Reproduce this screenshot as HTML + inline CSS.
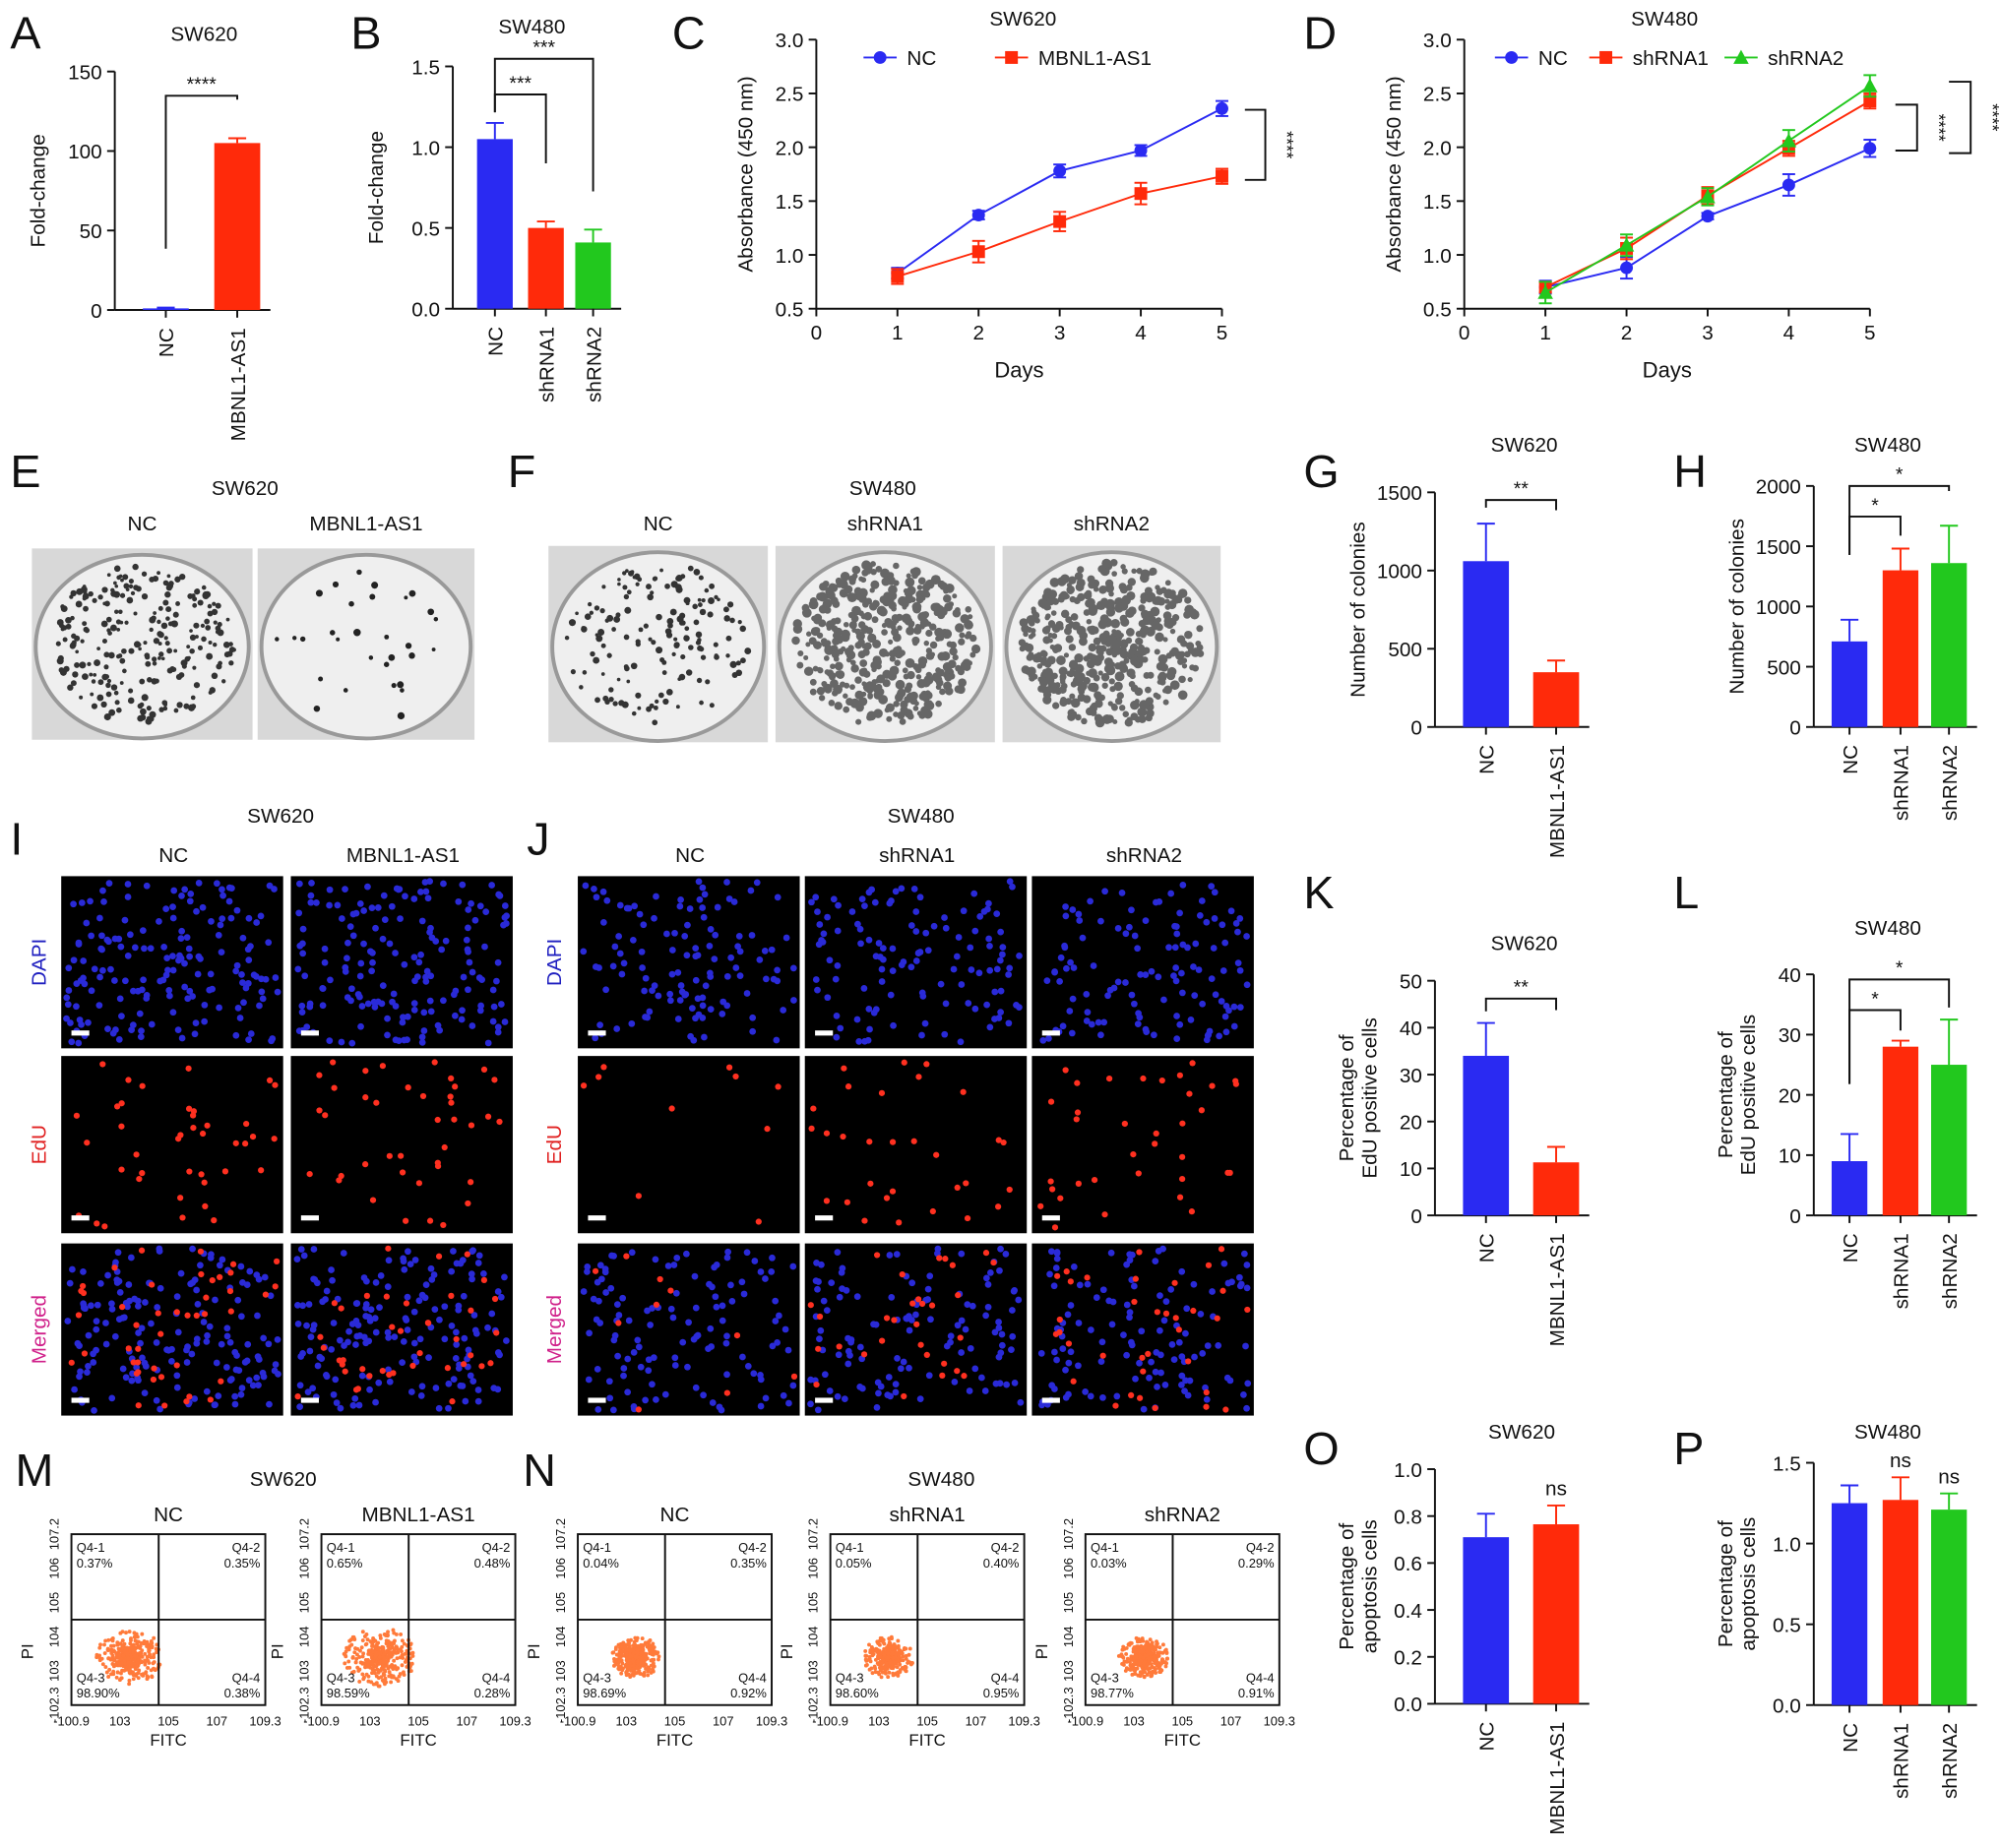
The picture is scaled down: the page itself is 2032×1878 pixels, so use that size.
<!DOCTYPE html>
<html><head><meta charset="utf-8"><style>
body{margin:0;background:#fff;}
svg{display:block;font-family:"Liberation Sans",Arial,sans-serif;}
</style></head><body>
<svg id="fig" width="2032" height="1878" viewBox="0 0 1568 1449" xmlns="http://www.w3.org/2000/svg"></svg>
<script>
// ---- data ----
const aCats=["NC","MBNL1-AS1"], aVals=[1,105], aErr=[0.5,3];
const bCats=["NC","shRNA1","shRNA2"], bVals=[1.05,0.5,0.41], bErr=[0.1,0.04,0.08];
const gVals=[1060,350], gErr=[240,75];
const hVals=[710,1300,1360], hErr=[180,180,310];
const kVals=[34,11.3], kErr=[7,3.3];
const lVals=[9,28,25], lErr=[4.5,1,7.5];
const oVals=[0.71,0.765], oErr=[0.1,0.08];
const pVals=[1.25,1.27,1.21], pErr=[0.11,0.14,0.1];
const days=[1,2,3,4,5];
const cNC=[0.83,1.37,1.78,1.97,2.36], cMB=[0.80,1.03,1.31,1.57,1.73];
const cNCe=[0.05,0.04,0.06,0.05,0.07], cMBe=[0.07,0.1,0.09,0.1,0.07];
const dNC=[0.70,0.88,1.36,1.65,1.99], dS1=[0.70,1.06,1.55,1.99,2.43], dS2=[0.65,1.09,1.54,2.06,2.57];
const dNCe=[0.06,0.1,0.03,0.1,0.08], dS1e=[0.05,0.1,0.08,0.07,0.07], dS2e=[0.1,0.1,0.08,0.1,0.1];
const BLUE="#2a2af2",RED="#ff2a0a",GREEN="#22c81e";
const svg=document.getElementById('fig');
const NS="http://www.w3.org/2000/svg";
function el(tag,attrs,parent,text){const e=document.createElementNS(NS,tag);for(const k in attrs)e.setAttribute(k,attrs[k]);if(text!==undefined)e.textContent=text;(parent||svg).appendChild(e);return e;}
function txt(x,y,s,size,opt,parent){opt=opt||{};const t=el('text',Object.assign({x:x,y:y,'font-size':size,fill:opt.fill||'#111','text-anchor':opt.anchor||'middle'},opt.rot?{transform:`rotate(${opt.rot} ${x} ${y})`}:{}),parent,s);

return t;}
function letter(x,y,s){txt(x,y,s,36,{anchor:'start',name:'panel-letter-'+s.toLowerCase()});}
function line(x1,y1,x2,y2,w,c,parent){const l=el('line',{x1,y1,x2,y2,stroke:c||'#111','stroke-width':w||1.5},parent);return l;}

function barChart(o){
  const g=el('g',{});
  
  
  const ys=v=>o.yb-(v/o.max)*(o.yb-o.yt);
  line(o.ax,o.yt,o.ax,o.yb,1.5,'#111',g);
  line(o.ax,o.yb,o.cx[o.cx.length-1]+o.w/2+8,o.yb,1.5,'#111',g);
  o.ticks.forEach(t=>{const y=ys(t);line(o.ax-6,y,o.ax,y,1.5,'#111',g);txt(o.ax-10,y+6,o.tl?o.tl(t):String(t),16,{anchor:'end',name:'y-tick-label'},g);});
  o.vals.forEach((v,i)=>{const x=o.cx[i];
    const r=el('rect',{x:x-o.w/2,y:ys(v),width:o.w,height:o.yb-ys(v),fill:o.cols[i]},g);
    
    
    const ye=ys(v+o.err[i]);line(x,ys(v),x,ye,1.5,o.cols[i],g);line(x-7,ye,x+7,ye,1.5,o.cols[i],g);
    line(x,o.yb,x,o.yb+6,1.5,'#111',g);
    txt(x+6,o.yb+14,o.cats[i],16,{anchor:'end',rot:-90,name:'x-tick-label'},g);
  });
  txt(o.title[0],o.title[1],o.title[2],16,{name:'chart-title'},g);
  o.ylab.forEach((s,i)=>txt(o.ax-55+i*18-(o.ylab.length-1)*9,(o.yt+o.yb)/2,s,16,{rot:-90,name:'y-axis-title'},g));
  (o.sig||[]).forEach(s=>{const x1=o.cx[s[0]],x2=o.cx[s[1]],y=s[2];
    el('polyline',{points:`${x1},${s[3]} ${x1},${y} ${x2},${y} ${x2},${s[4]}`,fill:'none',stroke:'#111','stroke-width':1.5},g);
    txt((x1+x2)/2,y-4,s[5],15,{name:'significance'},g);});
  (o.ns||[]).forEach(i=>{txt(o.cx[i],ys(o.vals[i]+o.err[i])-8,'ns',16,{name:'ns-label'},g);});
}
letter(8,38,"A");letter(275,38,"B");letter(527,38,"C");letter(1022,38,"D");
barChart({name:'chart-a',ax:90,yt:56,yb:243,max:150,ticks:[0,50,100,150],cats:aCats,vals:aVals,err:aErr,cols:[BLUE,RED],cx:[130,186],w:36,title:[160,32,'SW620'],ylab:['Fold-change'],sig:[[0,1,75,195,78,'****']]});
barChart({name:'chart-b',ax:355,yt:52,yb:242,max:1.5,ticks:[0,0.5,1,1.5],tl:t=>t.toFixed(1),cats:bCats,vals:bVals,err:bErr,cols:[BLUE,RED,GREEN],cx:[388,428,465],w:28,title:[417,26,'SW480'],ylab:['Fold-change'],sig:[[0,1,74,88,128,'***'],[0,2,46,88,150,'***']]});
letter(1022,382,"G");letter(1312,382,"H");letter(1022,712,"K");letter(1312,712,"L");letter(1022,1148,"O");letter(1312,1148,"P");
barChart({name:'chart-g',ax:1125,yt:386,yb:570,max:1500,ticks:[0,500,1000,1500],cats:aCats,vals:gVals,err:gErr,cols:[BLUE,RED],cx:[1165,1220],w:36,title:[1195,354,'SW620'],ylab:['Number of colonies'],sig:[[0,1,392,398,400,'**']]});
barChart({name:'chart-h',ax:1422,yt:381,yb:570,max:2000,ticks:[0,500,1000,1500,2000],cats:bCats,vals:hVals,err:hErr,cols:[BLUE,RED,GREEN],cx:[1450,1490,1528],w:28,title:[1480,354,'SW480'],ylab:['Number of colonies'],sig:[[0,1,405,435,420,'*'],[0,2,381,435,385,'*']]});
barChart({name:'chart-k',ax:1125,yt:769,yb:953,max:50,ticks:[0,10,20,30,40,50],cats:aCats,vals:kVals,err:kErr,cols:[BLUE,RED],cx:[1165,1220],w:36,title:[1195,745,'SW620'],ylab:['Percentage of','EdU positive cells'],sig:[[0,1,783,793,792,'**']]});
barChart({name:'chart-l',ax:1422,yt:764,yb:953,max:40,ticks:[0,10,20,30,40],cats:bCats,vals:lVals,err:lErr,cols:[BLUE,RED,GREEN],cx:[1450,1490,1528],w:28,title:[1480,733,'SW480'],ylab:['Percentage of','EdU positive cells'],sig:[[0,1,792,850,808,'*'],[0,2,768,850,790,'*']]});
barChart({name:'chart-o',ax:1125,yt:1152,yb:1336,max:1.0,ticks:[0,0.2,0.4,0.6,0.8,1.0],tl:t=>t.toFixed(1),cats:aCats,vals:oVals,err:oErr,cols:[BLUE,RED],cx:[1165,1220],w:36,title:[1193,1128,'SW620'],ylab:['Percentage of','apoptosis cells'],ns:[1]});
barChart({name:'chart-p',ax:1422,yt:1147,yb:1337,max:1.5,ticks:[0,0.5,1.0,1.5],tl:t=>t.toFixed(1),cats:bCats,vals:pVals,err:pErr,cols:[BLUE,RED,GREEN],cx:[1450,1490,1528],w:28,title:[1480,1128,'SW480'],ylab:['Percentage of','apoptosis cells'],ns:[1,2]});

function lineChart(o){
  const g=el('g',{});
  
  
  const xs=d=>o.x0+d*(o.x5-o.x0)/5, ys=v=>o.yb-(v-0.5)/2.5*(o.yb-o.yt);
  line(o.x0,o.yt,o.x0,o.yb,1.5,'#111',g);line(o.x0,o.yb,o.x5,o.yb,1.5,'#111',g);
  [0.5,1,1.5,2,2.5,3].forEach(t=>{line(o.x0-6,ys(t),o.x0,ys(t),1.5,'#111',g);txt(o.x0-10,ys(t)+6,t.toFixed(1),16,{anchor:'end',name:'y-tick-label'},g);});
  [0,1,2,3,4,5].forEach(d=>{line(xs(d),o.yb,xs(d),o.yb+6,1.5,'#111',g);txt(xs(d),o.yb+24,String(d),16,{name:'x-tick-label'},g);});
  txt((o.x0+o.x5)/2,o.yb+54,'Days',17,{name:'x-axis-title'},g);
  txt(o.x0-50,(o.yt+o.yb)/2,'Absorbance (450 nm)',16,{rot:-90,name:'y-axis-title'},g);
  txt(o.tx,20,o.title,16,{name:'chart-title'},g);
  o.series.forEach(s=>{
    const p=el('polyline',{points:days.map((d,i)=>xs(d)+','+ys(s.v[i])).join(' '),fill:'none',stroke:s.c,'stroke-width':1.5},g);
    
    
    days.forEach((d,i)=>{const x=xs(d),y=ys(s.v[i]),e=s.e[i];
      line(x,ys(s.v[i]-e),x,ys(s.v[i]+e),1.5,s.c,g);line(x-5,ys(s.v[i]+e),x+5,ys(s.v[i]+e),1.5,s.c,g);line(x-5,ys(s.v[i]-e),x+5,ys(s.v[i]-e),1.5,s.c,g);
      let m;
      if(s.m==='c')m=el('circle',{cx:x,cy:y,r:5,fill:s.c},g);
      else if(s.m==='s')m=el('rect',{x:x-5,y:y-5,width:10,height:10,fill:s.c},g);
      else m=el('polygon',{points:`${x},${y-6} ${x-6},${y+5} ${x+6},${y+5}`,fill:s.c},g);
      
      
    });
  });
  o.legend.forEach(l=>{line(l.x,45,l.x+26,45,1.5,l.c,g);
    if(l.m==='c')el('circle',{cx:l.x+13,cy:45,r:5,fill:l.c},g);else if(l.m==='s')el('rect',{x:l.x+8,y:40,width:10,height:10,fill:l.c},g);else el('polygon',{points:`${l.x+13},39 ${l.x+7},50 ${l.x+19},50`,fill:l.c},g);
    txt(l.x+34,51,l.n,16,{anchor:'start',name:'legend-entry'},g);});
  o.brackets.forEach(b=>{el('polyline',{points:`${b[0]},${b[1]} ${b[2]},${b[1]} ${b[2]},${b[3]} ${b[0]},${b[3]}`,fill:'none',stroke:'#111','stroke-width':1.5},g);
    txt(b[2]+12,(b[1]+b[3])/2,'****',14,{rot:90,name:'significance'},g);});
}
lineChart({name:'chart-c',x0:640,x5:958,yt:31,yb:242,tx:802,title:'SW620',
 series:[{n:'NC',v:cNC,e:cNCe,c:BLUE,m:'c'},{n:'MBNL1-AS1',v:cMB,e:cMBe,c:RED,m:'s'}],
 legend:[{x:677,n:'NC',c:BLUE,m:'c'},{x:780,n:'MBNL1-AS1',c:RED,m:'s'}],brackets:[[976,86,992,141]]});
lineChart({name:'chart-d',x0:1148,x5:1466,yt:31,yb:242,tx:1305,title:'SW480',
 series:[{n:'NC',v:dNC,e:dNCe,c:BLUE,m:'c'},{n:'shRNA1',v:dS1,e:dS1e,c:RED,m:'s'},{n:'shRNA2',v:dS2,e:dS2e,c:GREEN,m:'t'}],
 legend:[{x:1172,n:'NC',c:BLUE,m:'c'},{x:1246,n:'shRNA1',c:RED,m:'s'},{x:1352,n:'shRNA2',c:GREEN,m:'t'}],brackets:[[1486,82,1503,118],[1528,64,1545,120]]});

// pseudo-random for decorative textures
let seed=7;function rnd(){seed=(seed*16807)%2147483647;return seed/2147483647;}
// colony dishes
letter(8,382,"E");letter(398,382,"F");
txt(192,388,'SW620',16,{name:'panel-title'});txt(692,388,'SW480',16,{name:'panel-title'});
function dish(x,y,w,h,n,r,dark,lab,name){
  const g=el('g',{});
  el('rect',{x,y,width:w,height:h,fill:'#d8d8d8'},g);
  el('ellipse',{cx:x+w/2,cy:y+h/2+2,rx:w/2-3,ry:h/2-3,fill:'#efefef',stroke:'#999','stroke-width':3},g);
  for(let i=0;i<n;i++){const a=rnd()*6.283,d=Math.sqrt(rnd())*0.9;el('circle',{cx:x+w/2+Math.cos(a)*d*(w/2-6),cy:y+h/2+Math.sin(a)*d*(h/2-6),r:r*(0.6+rnd()*0.6),fill:dark},g);}
  txt(x+w/2,416,lab,16,{name:'dish-label'});
}
dish(25,430,173,150,260,2.3,'#333','NC','dish-sw620-nc');dish(202,430,170,150,30,2.5,'#222','MBNL1-AS1','dish-sw620-mbnl1');
dish(430,428,172,154,160,2.3,'#333','NC','dish-sw480-nc');dish(608,428,172,154,420,3.2,'#666','shRNA1','dish-sw480-shrna1');dish(786,428,171,154,460,3.2,'#666','shRNA2','dish-sw480-shrna2');
// fluorescence images
letter(8,670,"I");letter(413,670,"J");
txt(220,645,'SW620',16,{name:'panel-title'});txt(722,645,'SW480',16,{name:'panel-title'});
function fluo(x,y,w,h,nb,nr,name){
  const g=el('g',{});
  el('rect',{x,y,width:w,height:h,fill:'#000'},g);
  for(let i=0;i<nb;i++)el('circle',{cx:x+4+rnd()*(w-8),cy:y+4+rnd()*(h-8),r:2.6,fill:'#2a2ad8'},g);
  for(let i=0;i<nr;i++)el('circle',{cx:x+4+rnd()*(w-8),cy:y+4+rnd()*(h-8),r:2.4,fill:'#ff3020'},g);
  el('rect',{x:x+8,y:y+h-14,width:14,height:4,fill:'#fff'},g);
}
const rows=[[687,135,'DAPI','#2020c0'],[828,139,'EdU','#e02020'],[975,135,'Merged','#d0208a']];
const colsI=[[48,'NC'],[228,'MBNL1-AS1']],colsJ=[[453,'NC'],[631,'shRNA1'],[809,'shRNA2']];
const redI=[[0,40,45],[0,40,40]],redJ=[[0,10,10],[0,30,30],[0,35,35]];
rows.forEach((r,ri)=>{
  colsI.forEach((c,ci)=>fluo(c[0],r[0],174,r[1],ri===1?0:170,ri===0?0:redI[ci][ri],'image-i-'+ri+'-'+ci));
  colsJ.forEach((c,ci)=>fluo(c[0],r[0],174,r[1],ri===1?0:120,ri===0?0:redJ[ci][ri],'image-j-'+ri+'-'+ci));
  txt(36,r[0]+r[1]/2,r[2],16,{rot:-90,fill:r[3],name:'row-label'});
  txt(440,r[0]+r[1]/2,r[2],16,{rot:-90,fill:r[3],name:'row-label'});
});
colsI.forEach(c=>txt(c[0]+88,676,c[1],16,{name:'col-label'}));colsJ.forEach(c=>txt(c[0]+88,676,c[1],16,{name:'col-label'}));
// flow plots
letter(12,1165,"M");letter(410,1165,"N");
txt(222,1165,'SW620',16,{name:'panel-title'});txt(738,1165,'SW480',16,{name:'panel-title'});
function flow(x,lab,q,spread,name){
  const y=1203,w=152,h=134;const g=el('g',{});
  el('rect',{x,y,width:w,height:h,fill:'#fff',stroke:'#111','stroke-width':1.5},g);
  for(let i=0;i<500;i++){const a=rnd()*6.283,d=Math.pow(rnd(),2);el('circle',{cx:x+w*0.3+Math.cos(a)*d*22*spread,cy:y+h*0.72+Math.sin(a)*d*18*spread,r:1.5,fill:'#ff7a3a'},g);}
  line(x+w*0.45,y,x+w*0.45,y+h,1.5,'#111',g);line(x,y+h*0.5,x+w,y+h*0.5,1.5,'#111',g);
  txt(x+4,y+14,'Q4-1',10,{anchor:'start',name:'quadrant-label'},g);txt(x+4,y+26,q[0],10,{anchor:'start',name:'quadrant-value'},g);
  txt(x+w-4,y+14,'Q4-2',10,{anchor:'end',name:'quadrant-label'},g);txt(x+w-4,y+26,q[1],10,{anchor:'end',name:'quadrant-value'},g);
  txt(x+4,y+h-18,'Q4-3',10,{anchor:'start',name:'quadrant-label'},g);txt(x+4,y+h-6,q[2],10,{anchor:'start',name:'quadrant-value'},g);
  txt(x+w-4,y+h-18,'Q4-4',10,{anchor:'end',name:'quadrant-label'},g);txt(x+w-4,y+h-6,q[3],10,{anchor:'end',name:'quadrant-value'},g);
  txt(x+w/2,y-10,lab,16,{name:'flow-title'},g);
  txt(x+w/2,y+h+32,'FITC',13,{name:'x-axis-title'},g);txt(x-30,y+h/2+25,'PI',13,{rot:-90,name:'y-axis-title'},g);
  ['-10^0.9','10^3','10^5','10^7','10^9.3'].forEach((s,i)=>txt(x+i*w/4,y+h+16,s.replace('^',''),10,{name:'x-tick-label'},g));
  ['-10^2.3','10^3','10^4','10^5','10^6','10^7.2'].forEach((s,i)=>txt(x-10,y+h-i*h/5,s.replace('^',''),10,{rot:-90,name:'y-tick-label'},g));
}
flow(56,'NC',['0.37%','0.35%','98.90%','0.38%'],1.2,'flow-sw620-nc');
flow(252,'MBNL1-AS1',['0.65%','0.48%','98.59%','0.28%'],1.3,'flow-sw620-mbnl1');
flow(453,'NC',['0.04%','0.35%','98.69%','0.92%'],0.9,'flow-sw480-nc');
flow(651,'shRNA1',['0.05%','0.40%','98.60%','0.95%'],0.9,'flow-sw480-shrna1');
flow(851,'shRNA2',['0.03%','0.29%','98.77%','0.91%'],0.9,'flow-sw480-shrna2');
</script>
</body></html>
